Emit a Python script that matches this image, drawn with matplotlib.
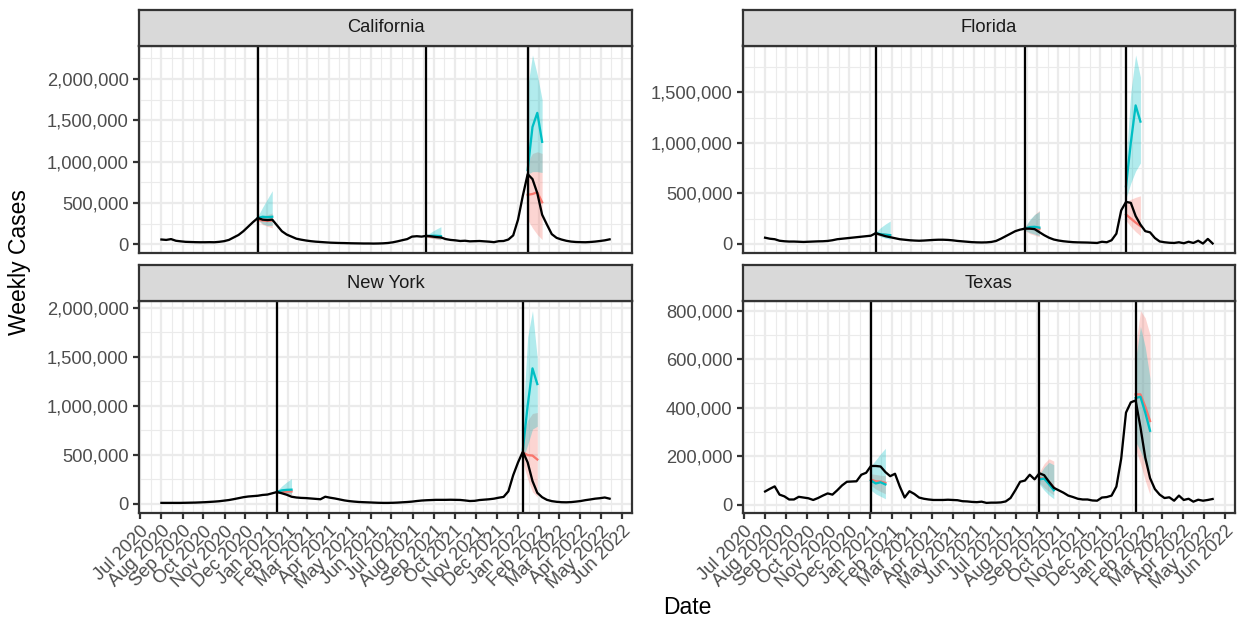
import numpy as np
import pandas as pd
import matplotlib
matplotlib.use("Agg")
import matplotlib.pyplot as plt
import matplotlib.dates as mdates
from matplotlib.ticker import MultipleLocator, FuncFormatter

plt.rcParams['font.family'] = ['Liberation Sans', 'DejaVu Sans']

# weekly observed cases (thousands), weeks ending Saturday from 2020-08-01
weeks = pd.date_range('2020-08-01', periods=94, freq='7D')
horizon_days = [0, 7, 14, 21]

ca_cases_k = [60, 55, 65, 45, 38, 32, 30, 28, 27, 27,
              28, 27, 32, 40, 55, 85, 115, 160, 215, 270,
              320, 300, 295, 300, 230, 160, 120, 95, 70, 58,
              48, 40, 34, 30, 26, 22, 20, 18, 17, 15,
              14, 13, 12, 12, 11, 12, 14, 18, 26, 38,
              52, 65, 95, 100, 95, 105, 98, 90, 85, 65,
              55, 50, 42, 45, 38, 40, 42, 38, 34, 28,
              40, 42, 60, 110, 300, 590, 850, 790, 620, 360,
              240, 125, 80, 60, 45, 35, 30, 28, 27, 30,
              35, 42, 50, 62]
fl_cases_k = [60, 50, 45, 30, 25, 22, 22, 20, 18, 20,
              22, 24, 25, 28, 35, 45, 50, 55, 60, 65,
              70, 75, 80, 105, 90, 75, 65, 55, 45, 40,
              35, 32, 30, 32, 35, 38, 40, 40, 38, 34,
              28, 24, 20, 16, 14, 13, 14, 18, 28, 50,
              75, 100, 125, 140, 150, 150, 145, 115, 85, 60,
              42, 32, 25, 20, 16, 14, 13, 12, 10, 8,
              20, 15, 35, 100, 330, 415, 405, 275, 190, 125,
              113, 57, 23, 15, 10, 8, 15, 5, 20, 8,
              30, 2, 48, 3]
ny_cases_k = [7, 7, 7, 7, 7, 8, 9, 10, 12, 14,
              17, 20, 24, 30, 36, 45, 55, 65, 72, 76,
              80, 88, 92, 105, 118, 105, 90, 70, 62, 58,
              56, 52, 48, 44, 70, 60, 52, 42, 32, 25,
              20, 16, 14, 12, 10, 8, 7, 7, 8, 10,
              13, 16, 20, 26, 31, 34, 36, 38, 38, 38,
              39, 38, 37, 32, 26, 28, 36, 40, 44, 50,
              60, 68, 125, 290, 420, 530, 420, 230, 110, 65,
              38, 25, 18, 14, 13, 15, 20, 26, 35, 42,
              50, 55, 62, 50]
tx_cases_k = [55, 66, 76, 42, 35, 22, 22, 33, 30, 27,
              20, 28, 38, 47, 42, 60, 80, 95, 96, 97,
              124, 132, 160, 160, 158, 135, 118, 128, 75, 30,
              56, 45, 30, 25, 22, 20, 20, 20, 21, 20,
              19, 15, 14, 12, 11, 13, 8, 9, 9, 10,
              14, 28, 60, 95, 100, 124, 105, 130, 122, 95,
              70, 60, 50, 38, 32, 25, 22, 22, 18, 17,
              30, 32, 38, 75, 190, 380, 422, 430, 320, 195,
              110, 65, 42, 28, 31, 17, 38, 20, 25, 13,
              21, 17, 20, 24]

# forecasts (thousands): one row per forecast date, one value per horizon
ca_fc_dates = ['2020-12-19', '2021-08-21', '2022-01-15']
ca_red_med = [[300, 290, 285, 290], [98, 92, 88, 85], [600, 610, 630, 510]]
ca_red_lo = [[290, 240, 220, 200], [88, 75, 65, 55], [300, 200, 120, 60]]
ca_red_hi = [[320, 340, 360, 380], [108, 115, 120, 125], [1000, 1100, 1120, 1100]]
ca_cyan_med = [[320, 335, 330, 335], [100, 105, 105, 100], [900, 1420, 1590, 1240]]
ca_cyan_lo = [[300, 250, 230, 230], [90, 80, 70, 60], [850, 880, 880, 870]]
ca_cyan_hi = [[340, 450, 550, 650], [110, 150, 185, 215], [1900, 2290, 2050, 1750]]

fl_fc_dates = ['2021-01-09', '2021-08-14', '2022-01-08']
fl_red_med = [[100, 92, 88, 82], [150, 150, 148, 145], [290, 250, 210, 175]]
fl_red_lo = [[92, 80, 72, 65], [130, 100, 85, 70], [230, 170, 120, 80]]
fl_red_hi = [[110, 105, 105, 100], [165, 230, 290, 330], [420, 440, 460, 475]]
fl_cyan_med = [[105, 95, 90, 85], [150, 165, 168, 160], [570, 1000, 1370, 1210]]
fl_cyan_lo = [[95, 70, 55, 45], [135, 110, 95, 80], [450, 600, 720, 800]]
fl_cyan_hi = [[115, 160, 195, 225], [165, 240, 290, 320], [800, 1500, 1870, 1650]]

ny_fc_dates = ['2021-01-16', '2022-01-08']
ny_red_med = [[115, 120, 122, 124], [520, 495, 490, 450]]
ny_red_lo = [[105, 100, 95, 90], [420, 250, 120, 70]]
ny_red_hi = [[125, 135, 140, 145], [700, 850, 920, 930]]
ny_cyan_med = [[120, 135, 140, 142], [550, 1000, 1380, 1220]]
ny_cyan_lo = [[110, 105, 100, 95], [450, 600, 760, 790]]
ny_cyan_hi = [[130, 180, 220, 255], [850, 1700, 1970, 1480]]

tx_fc_dates = ['2021-01-02', '2021-09-04', '2022-01-22']
tx_red_med = [[104, 97, 96, 90], [110, 108, 95, 72], [455, 455, 405, 345]]
tx_red_lo = [[80, 65, 55, 45], [90, 70, 55, 40], [230, 170, 100, 40]]
tx_red_hi = [[128, 125, 122, 120], [135, 170, 190, 180], [650, 800, 770, 700]]
tx_cyan_med = [[100, 88, 93, 84], [105, 108, 85, 60], [440, 445, 380, 305]]
tx_cyan_lo = [[60, 45, 35, 25], [85, 60, 40, 25], [260, 220, 170, 130]]
tx_cyan_hi = [[160, 185, 210, 233], [125, 155, 175, 165], [600, 735, 650, 520]]

y_steps = {'California': 500000, 'Florida': 500000, 'New York': 500000, 'Texas': 200000}

RED = '#F8766D'
CYAN = '#00BFC4'
GRID = '#EBEBEB'
BORDER = '#333333'

W, H = 1238, 625
fig = plt.figure(figsize=(W / 150, H / 150), dpi=150)


def px_axes(x0, y0, x1, y1):
    return fig.add_axes([x0 / W, 1 - y1 / H, (x1 - x0) / W, (y1 - y0) / H])


cols = [(139, 632), (742.7, 1235)]
rows = [(10, 45.5, 253), (265, 301, 512.5)]  # strip top, panel top, panel bottom

panels = [
    ('California', ca_cases_k, ca_fc_dates, ca_red_med, ca_red_lo, ca_red_hi,
     ca_cyan_med, ca_cyan_lo, ca_cyan_hi, 0, 0),
    ('Florida', fl_cases_k, fl_fc_dates, fl_red_med, fl_red_lo, fl_red_hi,
     fl_cyan_med, fl_cyan_lo, fl_cyan_hi, 1, 0),
    ('New York', ny_cases_k, ny_fc_dates, ny_red_med, ny_red_lo, ny_red_hi,
     ny_cyan_med, ny_cyan_lo, ny_cyan_hi, 0, 1),
    ('Texas', tx_cases_k, tx_fc_dates, tx_red_med, tx_red_lo, tx_red_hi,
     tx_cyan_med, tx_cyan_lo, tx_cyan_hi, 1, 1),
]

# shared x range like facet_wrap: data range plus 5% each side
wnum = mdates.date2num(weeks)
span = wnum[-1] - wnum[0]
xlim = (wnum[0] - 0.05 * span, wnum[-1] + 0.05 * span)

months = pd.date_range('2020-06-01', '2022-08-01', freq='MS')
mnum = mdates.date2num(months)
minor_pos = (mnum[:-1] + mnum[1:]) / 2

for (name, cases, fc_dates, rmed, rlo, rhi, cmed, clo, chi, c, r) in panels:
    x0, x1 = cols[c]
    s0, p0, p1 = rows[r]
    ax = px_axes(x0, p0, x1, p1)

    for d, lo, hi in zip(fc_dates, rlo, rhi):
        fx = pd.Timestamp(d) + pd.to_timedelta(horizon_days, unit='D')
        ax.fill_between(fx, np.array(lo) * 1000, np.array(hi) * 1000,
                        color=RED, alpha=0.3, lw=0)
    for d, lo, hi in zip(fc_dates, clo, chi):
        fx = pd.Timestamp(d) + pd.to_timedelta(horizon_days, unit='D')
        ax.fill_between(fx, np.array(lo) * 1000, np.array(hi) * 1000,
                        color=CYAN, alpha=0.3, lw=0)
    for d, a in zip(fc_dates, rmed):
        fx = pd.Timestamp(d) + pd.to_timedelta(horizon_days, unit='D')
        ax.plot(fx, np.array(a) * 1000, color=RED, lw=1.1)
    for d, a in zip(fc_dates, cmed):
        fx = pd.Timestamp(d) + pd.to_timedelta(horizon_days, unit='D')
        ax.plot(fx, np.array(a) * 1000, color=CYAN, lw=1.1)

    ax.plot(weeks, np.array(cases) * 1000, color='black', lw=1.1)
    for d in fc_dates:
        ax.axvline(pd.Timestamp(d), color='black', lw=1.1)

    ax.margins(y=0.05)
    ax.xaxis.set_major_locator(mdates.MonthLocator())
    ax.xaxis.set_major_formatter(mdates.DateFormatter('%b %Y'))
    ax.set_xticks(minor_pos, minor=True)
    ax.set_xlim(xlim)
    step = y_steps[name]
    ax.yaxis.set_major_locator(MultipleLocator(step))
    ax.yaxis.set_minor_locator(MultipleLocator(step / 2))
    ax.yaxis.set_major_formatter(FuncFormatter(lambda v, p: format(int(round(v)), ',')))

    ax.set_axisbelow(True)
    ax.grid(which='minor', color=GRID, lw=0.55)
    ax.grid(which='major', color=GRID, lw=1.07)
    for sp in ax.spines.values():
        sp.set_color(BORDER)
        sp.set_linewidth(1.07)
    ax.tick_params(which='minor', length=0)
    ax.tick_params(which='major', length=2.75, width=1.07, color=BORDER,
                   labelsize=8.8, labelcolor='#4D4D4D', pad=2.2)
    if r == 0:
        ax.tick_params(axis='x', which='both', bottom=False, labelbottom=False)
    else:
        ax.tick_params(axis='x', labelrotation=45)
        plt.setp(ax.get_xticklabels(), ha='right', va='top', rotation_mode='anchor')

    sax = px_axes(x0, s0, x1, p0)
    sax.set_facecolor('#D9D9D9')
    sax.set_xticks([])
    sax.set_yticks([])
    for sp in sax.spines.values():
        sp.set_color(BORDER)
        sp.set_linewidth(1.07)
    sax.text(0.5, 0.5, name, ha='center', va='center', fontsize=8.8,
             color='#1A1A1A', transform=sax.transAxes)

fig.text(20 / W, 1 - 262 / H, 'Weekly Cases', rotation=90, ha='center', va='center', fontsize=11)
fig.text(687 / W, 1 - 608 / H, 'Date', ha='center', va='center', fontsize=11)

fig.savefig('out.png', dpi=150)
